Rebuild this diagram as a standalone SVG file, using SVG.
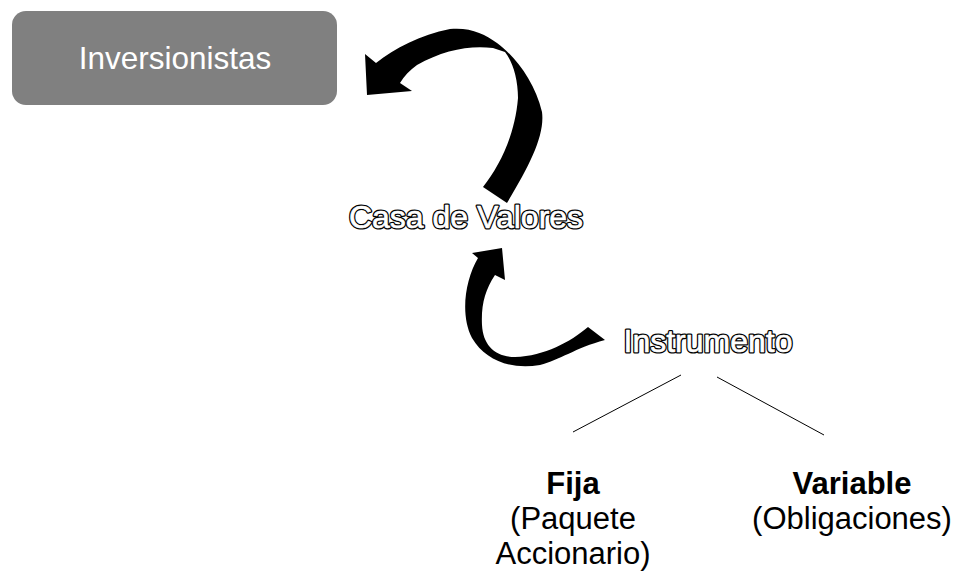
<svg xmlns="http://www.w3.org/2000/svg" width="965" height="574" viewBox="0 0 965 574">
<style>
.box{fill:#808080}
.boxtxt{font-family:"Liberation Sans",Arial,sans-serif;font-size:31.5px;fill:#ffffff}
.ol{font-family:"Liberation Sans",Arial,sans-serif;font-size:32px;stroke-linejoin:round}
.olb{fill:#000000;stroke:#000000;stroke-width:3.2px}
.olw{fill:#ffffff;stroke:#ffffff;stroke-width:0.6px}
.arrow{fill:#000000}
.line{stroke:#000000;stroke-width:1;fill:none}
.b{font-family:"Liberation Sans",Arial,sans-serif;font-size:31px;font-weight:bold;fill:#000000}
.r{font-family:"Liberation Sans",Arial,sans-serif;font-size:31px;fill:#000000}
</style>
<rect width="965" height="574" fill="#ffffff"/>
<g id="inversionistas">
<rect class="box" x="12" y="11" width="325" height="94" rx="14"/>
<text class="boxtxt" x="175" y="69" text-anchor="middle">Inversionistas</text>
</g>
<g id="casa">
<text class="ol olb" x="466" y="228" text-anchor="middle">Casa de Valores</text>
<text class="ol olw" x="466" y="228" text-anchor="middle">Casa de Valores</text>
</g>
<g id="instrumento">
<text class="ol olb" x="708" y="352" text-anchor="middle">Instrumento</text>
<text class="ol olw" x="708" y="352" text-anchor="middle">Instrumento</text>
</g>
<g id="fija">
<text class="b" x="573" y="494" text-anchor="middle">Fija</text>
<text class="r" x="573" y="529" text-anchor="middle">(Paquete</text>
<text class="r" x="573" y="564" text-anchor="middle">Accionario)</text>
</g>
<g id="variable">
<text class="b" x="852" y="494" text-anchor="middle">Variable</text>
<text class="r" x="852" y="529" text-anchor="middle">(Obligaciones)</text>
</g>
<g id="connectors">
<path class="arrow" d="M367,95 L365,54 L376,63 C395,48 420,35 450,29 C470,27 485,34 497,43 C515,56 535,82 542,112 C545,135 530,165 507,203 L483,187 C500,165 515,135 518,98 C518,80 513,62 505,52 L493,48 C470,45 443,50 417,65 C410,70 404,76 400,83 L412,91 Z"/>
<path class="arrow" d="M502,248 L472,253 L478,258 C465,280 460,315 472,338 C485,360 510,370 540,365 C560,360 575,348 605,340 L588,327 C570,342 545,356 515,357 C495,357 483,345 482,325 C481,305 485,290 495,275 L505,280 Z"/>
<line class="line" x1="681" y1="375" x2="573" y2="432"/>
<line class="line" x1="717" y1="377" x2="824" y2="435"/>
</g>
</svg>
